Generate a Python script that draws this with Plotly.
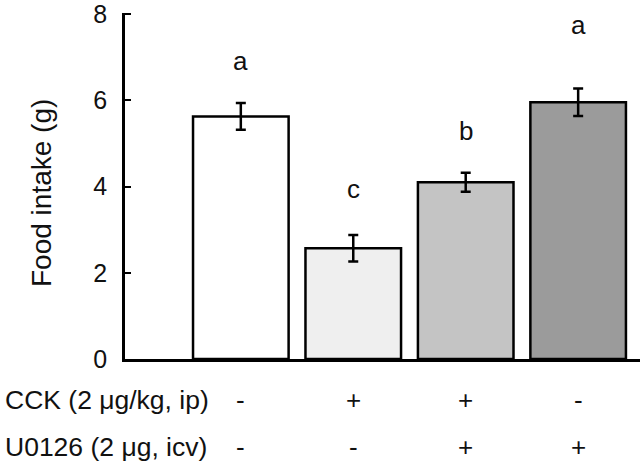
import plotly.graph_objects as go

# Data
groups = [0, 1, 2, 3]
food_intake = [5.63, 2.57, 4.10, 5.96]
sem = [0.31, 0.31, 0.22, 0.32]
bar_colors = ["#ffffff", "#efefef", "#c4c4c4", "#9b9b9b"]
sig_letters = ["a", "c", "b", "a"]
sig_letter_y = [6.92, 3.94, 5.28, 7.75]
cck_row = ["-", "+", "+", "-"]
u0126_row = ["-", "-", "+", "+"]
row_labels = ["CCK (2 μg/kg, ip)", "U0126 (2 μg, icv)"]
y_ticks = [0, 2, 4, 6, 8]

FONT = "Liberation Sans, Arial, Helvetica, sans-serif"
TXT = "#111111"

fig = go.Figure()
fig.add_trace(go.Bar(
    x=groups, y=food_intake, width=0.85,
    marker=dict(color=bar_colors, line=dict(color="#000000", width=2.5)),
    error_y=dict(type="data", array=sem, visible=True, color="#000000",
                 thickness=2.5, width=5),
    showlegend=False,
))

annotations = []
for g, letter, ly in zip(groups, sig_letters, sig_letter_y):
    annotations.append(dict(x=g, y=ly, xref="x", yref="y", text=letter,
                            showarrow=False, font=dict(size=26, color=TXT, family=FONT)))
for g, s in zip(groups, cck_row):
    annotations.append(dict(x=g, y=-0.118, xref="x", yref="paper", text=s,
                            yanchor="middle", xanchor="center",
                            showarrow=False, font=dict(size=26, color=TXT, family=FONT)))
for g, s in zip(groups, u0126_row):
    annotations.append(dict(x=g, y=-0.253, xref="x", yref="paper", text=s,
                            yanchor="middle", xanchor="center",
                            showarrow=False, font=dict(size=26, color=TXT, family=FONT)))
for lbl, ry in zip(row_labels, [-0.118, -0.253]):
    annotations.append(dict(x=-0.237, y=ry, xref="paper", yref="paper", text=lbl,
                            xanchor="left", yanchor="middle", showarrow=False,
                            font=dict(size=26.5, color=TXT, family=FONT)))
annotations.append(dict(x=-0.161, y=0.48, xref="paper", yref="paper",
                        text="Food intake (g)", textangle=-90, showarrow=False,
                        xanchor="center", yanchor="middle",
                        font=dict(size=28, color=TXT, family=FONT)))

fig.update_layout(
    width=640, height=463,
    margin=dict(l=125, r=0, t=10, b=104),
    paper_bgcolor="white", plot_bgcolor="white",
    bargap=0.15,
    annotations=annotations,
    xaxis=dict(range=[-1.03, 3.55], showticklabels=False, ticks="",
               showgrid=False, zeroline=False, showline=True,
               linecolor="#000000", linewidth=2.5),
    yaxis=dict(range=[0, 8.03], tickmode="array", tickvals=y_ticks,
               ticktext=[str(v) for v in y_ticks],
               ticks="inside", ticklen=6,
               tickwidth=2, tickcolor="#000000", showgrid=False, zeroline=False,
               showline=True, linecolor="#000000", linewidth=2.5,
               ticklabelstandoff=10, ticklabeloverflow="allow",
               tickfont=dict(size=25, color=TXT, family=FONT)),
)

fig.write_html("out.html", config={"displayModeBar": False},
               post_script="document.body.style.margin='0';")
